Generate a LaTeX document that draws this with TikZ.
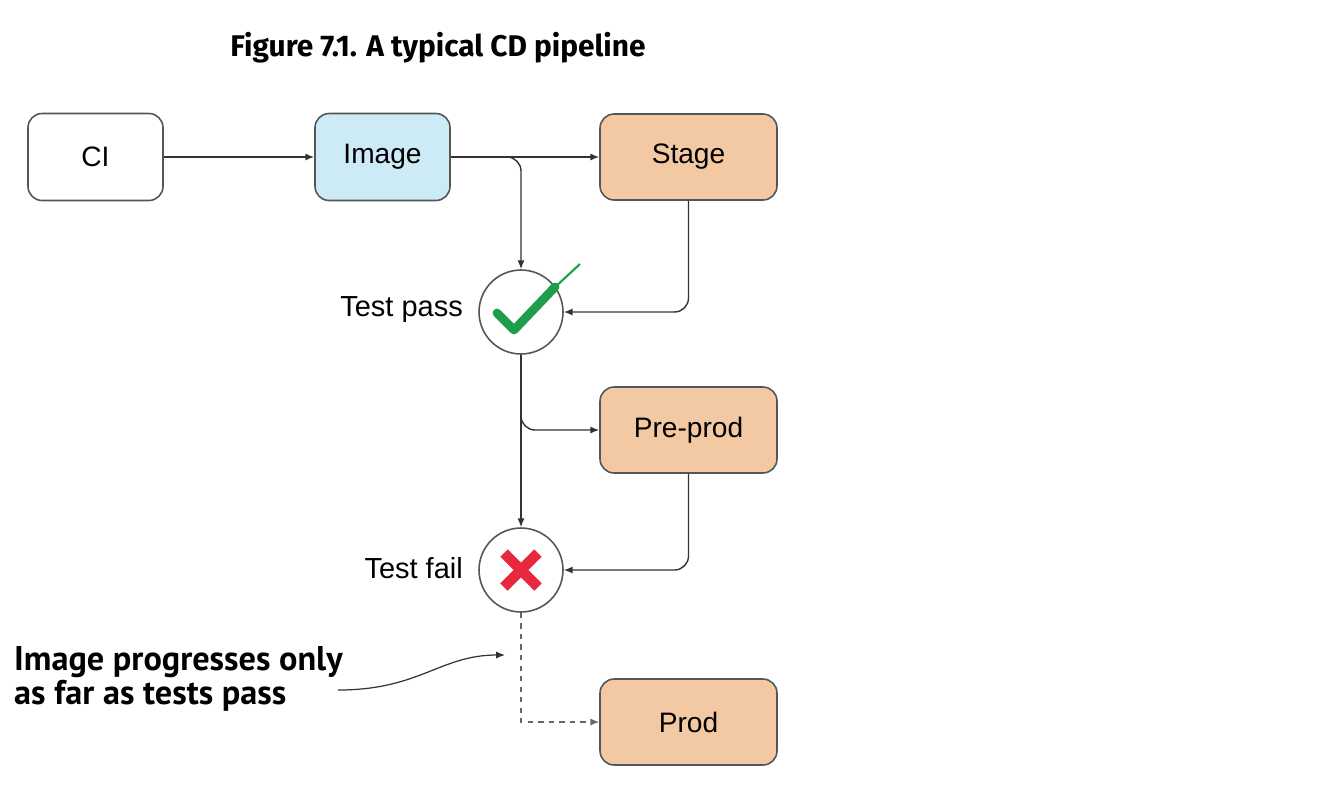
\documentclass[tikz,border=0pt]{standalone}
\usepackage{fontspec}
\setmainfont{Liberation Sans}
\newfontfamily\titlefont{Fira Sans}
\newfontfamily\notefont{PT Sans}
\usetikzlibrary{positioning,arrows.meta}
\definecolor{boxline}{HTML}{555555}
\definecolor{imgblue}{HTML}{CDEAF7}
\definecolor{envtan}{HTML}{F2C9A2}
\definecolor{okgreen}{HTML}{1E9E4A}
\definecolor{badred}{HTML}{E8283C}
\begin{document}
\begin{tikzpicture}[x=0.02cm,y=-0.02cm,
    box/.style={rectangle, rounded corners=8pt, draw=boxline, line width=0.9pt, minimum width=2.7cm, minimum height=1.74cm, font=\fontsize{16}{18}\selectfont},
    env/.style={box, fill=envtan, minimum width=3.54cm, minimum height=1.72cm},
    gate/.style={circle, draw=boxline, line width=0.9pt, fill=white, minimum size=1.68cm},
    glabel/.style={font=\fontsize{16.5}{18}\selectfont, anchor=east},
    link/.style={draw=black!80, line width=0.8pt, -{Latex[length=5pt,width=4pt]}},
    elbow/.style={link, rounded corners=8pt}
  ]
  \useasboundingbox (0,0) rectangle (1334,788);
  \node[font=\titlefont\bfseries\fontsize{17}{20}\selectfont] (title) at (438,48) {Figure 7.1. A typical CD pipeline};

  \node[box, fill=white] (ci) at (95.5,157) {CI};
  \node[box, fill=imgblue] (image) at (382.5,157) {Image};
  \node[env] (stage) at (688.5,157) {Stage};
  \node[gate] (pass) at (521,312) {};
  \node[glabel] (passlbl) at (469,310) {Test pass};
  \node[env] (preprod) at (688.5,430) {Pre-prod};
  \node[gate] (fail) at (521,570) {};
  \node[glabel] (faillbl) at (469,568) {Test fail};
  \node[env] (prod) at (688.5,722) {Prod};
  \node[font=\notefont\bfseries\fontsize{19.5}{19}\selectfont, align=left, anchor=west] (note) at (8,679) {Image progresses only\\as far as tests pass};

  % check and cross
  \draw[okgreen, line width=5pt, line cap=round, line join=round] (497,313) -- (514,330) -- (555,287);
  \draw[okgreen, line width=1.2pt] (553,289) -- (580,264);
  \draw[badred, line width=6pt] (504,553) -- (538,587) (538,553) -- (504,587);

  \coordinate (split) at (521,157);
  \coordinate (tap) at (521,415);
  \coordinate (noteend) at (505,655);

  \draw[link] (ci) -- (image);
  \draw[link] (image) -- (stage);
  \draw[elbow] (image.east |- split) -| (pass);
  \draw[elbow] (stage) |- (pass);
  \draw[link] (pass) -- (fail);
  \draw[elbow] (tap) |- (preprod);
  \draw[elbow] (preprod) |- (fail);
  \draw[link, dashed, draw=black!60] (fail) |- (prod);
  \draw[draw=black!80, line width=0.7pt, -{Latex[length=5pt,width=4pt]}] (338,690) .. controls (420,690) and (440,655) .. (noteend);
\end{tikzpicture}
\end{document}
